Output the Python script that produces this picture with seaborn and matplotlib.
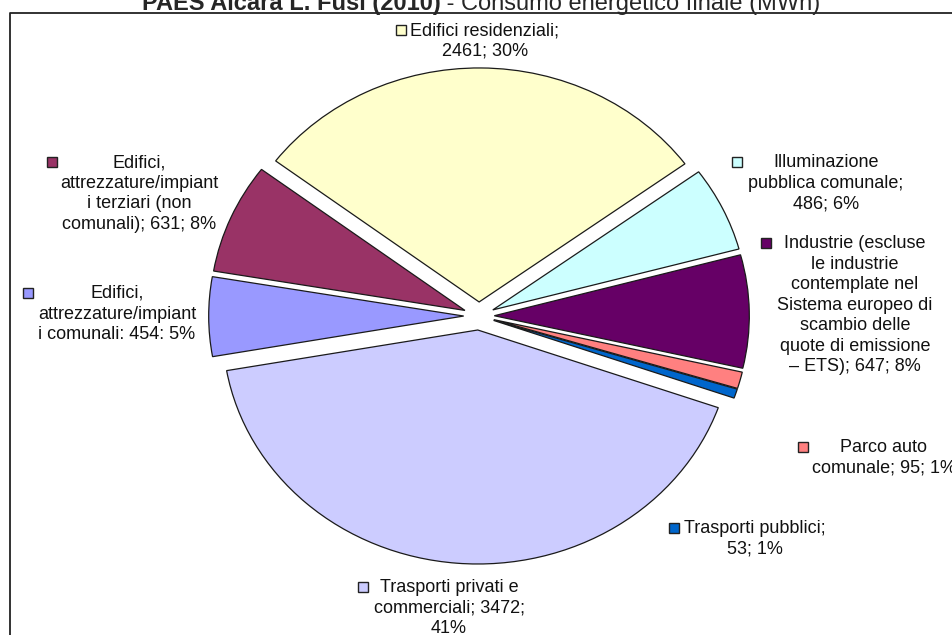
"""Torta dei consumi energetici finali (PAES) ricostruita con seaborn/matplotlib."""

import matplotlib

matplotlib.use("Agg")
import matplotlib.pyplot as plt  # noqa: E402
import seaborn as sns  # noqa: E402

# Dati (ordine del modello PAES, in senso orario)
categories = [
    "Edifici, attrezzature/impianti comunali",
    "Edifici, attrezzature/impianti terziari (non comunali)",
    "Edifici residenziali",
    "Illuminazione pubblica comunale",
    "Industrie (escluse ETS)",
    "Parco auto comunale",
    "Trasporti pubblici",
    "Trasporti privati e commerciali",
]
values = [454, 631, 2461, 486, 647, 95, 53, 3472]
percents = [5, 8, 30, 6, 8, 1, 1, 41]
colors = ["#9999FF", "#993366", "#FFFFCC", "#CCFFFF", "#660066", "#FF8080", "#0066CC", "#CCCCFF"]
label_templates = [
    "Edifici,\nattrezzature/impiant\ni comunali: {v}: {p}%",
    "Edifici,\nattrezzature/impiant\ni terziari (non\ncomunali); {v}; {p}%",
    "Edifici residenziali;\n{v}; {p}%",
    "Illuminazione\npubblica comunale;\n{v}; {p}%",
    "Industrie (escluse\nle industrie\ncontemplate nel\nSistema europeo di\nscambio delle\nquote di emissione\n\u2013 ETS); {v}; {p}%",
    "Parco auto\ncomunale; {v}; {p}%",
    "Trasporti pubblici;\n{v}; {p}%",
    "Trasporti privati e\ncommerciali; {v};\n{p}%",
]
title_bold = "PAES Alcara L. Fusi (2010)"
title_rest = " - Consumo energetico finale (MWh)"

# Impaginazione (pixel dell'immagine 952x635)
W, H = 952, 635
CX, CY, RX, RY = 479, 316, 255, 234
label_xy = [(117, 293), (139, 162), (485, 30), (826, 162), (855, 243), (884, 447), (755, 528), (449, 587)]
key_xy = [(28, 293), (52, 162), (401, 30), (737, 162), (766, 243), (803, 447), (674, 528), (363, 587)]


def main():
    sns.set_theme(style="white")
    plt.rcParams["font.family"] = ["Liberation Sans", "DejaVu Sans"]

    fig = plt.figure(figsize=(W / 100, H / 100), dpi=100)
    fig.patch.set_facecolor("white")

    # Torta
    ax = fig.add_axes([0, 0, 1, 1])
    ax.pie(
        values,
        colors=colors,
        startangle=190,
        counterclock=False,
        explode=[0.06] * len(values),
        wedgeprops=dict(edgecolor="#1a1a1a", linewidth=0.9),
    )
    ax.set_aspect("auto")
    ax.set_xlim(-CX / RX, (W - CX) / RX)
    ax.set_ylim((CY - H) / RY, CY / RY)
    ax.axis("off")

    # Sovrapposizione in pixel per etichette, cornice e titolo
    ov = fig.add_axes([0, 0, 1, 1], facecolor="none")
    ov.set_xlim(0, W)
    ov.set_ylim(H, 0)
    ov.axis("off")

    ov.plot([10, 10, W], [H, 13, 13], color="#222222", lw=1.3, solid_capstyle="butt")

    for tpl, v, p, c, (lx, ly), (kx, ky) in zip(label_templates, values, percents, colors, label_xy, key_xy):
        ov.text(
            lx, ly - 8, tpl.format(v=v, p=p),
            ha="center", va="top", multialignment="center",
            fontsize=13, linespacing=1.27, color="#111111",
        )
        ov.plot(kx, ky, marker="s", markersize=7, color=c, mec="#222222", mew=1.0)

    # Titolo (tagliato in alto come nell'originale)
    t1 = ov.text(0, 10, title_bold, fontsize=17, fontweight="bold", ha="left", va="baseline")
    t2 = ov.text(0, 10, title_rest, fontsize=17, ha="left", va="baseline")
    fig.canvas.draw()
    w1 = t1.get_window_extent().width
    w2 = t2.get_window_extent().width
    x0 = 481 - (w1 + w2) / 2
    t1.set_x(x0)
    t2.set_x(x0 + w1)

    fig.savefig("out.png", dpi=100)


if __name__ == "__main__":
    main()
